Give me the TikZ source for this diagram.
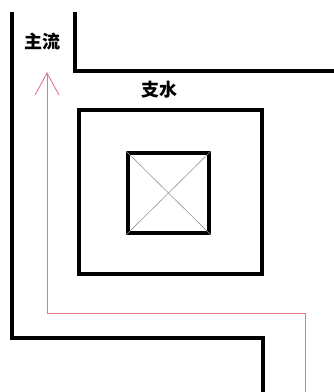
\documentclass[tikz,border=0pt]{standalone}
\usepackage{fontspec}
\newfontfamily\cjk{Noto Sans CJK SC}
\definecolor{flowred}{RGB}{225,120,135}
\definecolor{diaggray}{RGB}{150,150,150}
\begin{document}
\begin{tikzpicture}[x=1pt,y=-1pt,
  wall/.style={line width=4.5pt,black},
  flow/.style={line width=0.9pt,draw=flowred},
  diag/.style={line width=0.6pt,draw=diaggray},
  lbl/.style={font=\cjk\bfseries\fontsize{18}{18}\selectfont,inner sep=0pt}]
\useasboundingbox (0,0) rectangle (334,392);
% walls
\coordinate (w1) at (12,12);
\coordinate (w2) at (12,338);
\coordinate (w3) at (263,338);
\coordinate (w4) at (263,392);
\draw[wall] (w1) -- (w2) -- (w3) -- (w4);
\coordinate (u1) at (75,12);
\coordinate (u2) at (75,71);
\coordinate (u3) at (334,71);
\draw[wall] (u1) -- (u2) -- (u3);
% outer square
\node[draw,line width=4.5pt,minimum width=183pt,minimum height=164pt,inner sep=0pt] (outer) at (170.5,192) {};
% inner square
\node[draw,line width=4.5pt,minimum width=81pt,minimum height=80pt,inner sep=0pt] (inner) at (168.5,193) {};
\draw[diag] (inner.north west) -- (inner.south east);
\draw[diag] (inner.north east) -- (inner.south west);
% flow path
\coordinate (f1) at (305,392);
\coordinate (f2) at (305,313);
\coordinate (f3) at (47,313);
\coordinate (f4) at (47,73);
\draw[flow] (f1) -- (f2) -- (f3) -- (f4);
\draw[flow] (35,95) -- (f4) -- (59,95);
% labels
\node[lbl] (main) at (42,42) {主流};
\node[lbl] (branch) at (160,90) {支水};
\end{tikzpicture}
\end{document}
